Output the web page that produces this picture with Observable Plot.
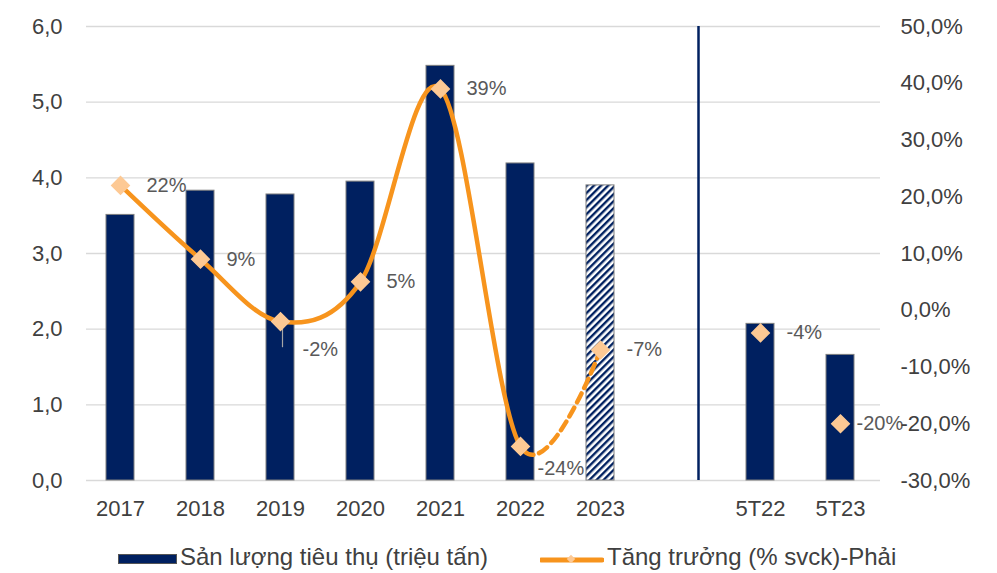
<!DOCTYPE html>
<html><head><meta charset="utf-8">
<script src="https://cdn.jsdelivr.net/npm/d3@7"></script>
<script src="https://cdn.jsdelivr.net/npm/@observablehq/plot@0.6"></script>
<style>
body{margin:0;background:#fff;font-family:"Liberation Sans",Arial,sans-serif;}
#legend{position:relative;height:38px;width:997px;color:#404040;font-size:24px;}
#legend .sw{position:absolute;}
#legend .lbl{position:absolute;top:9px;line-height:26px;white-space:nowrap;}
</style></head><body>
<svg width="0" height="0" style="position:absolute"><defs>
<pattern id="hatch" patternUnits="userSpaceOnUse" width="5" height="5" patternTransform="rotate(45)">
<rect width="5" height="5" fill="#ffffff"/><rect width="2.4" height="5" fill="#002060"/>
</pattern></defs></svg>
<div id="chart"></div>
<div id="legend"></div>
<script>
const categories = ["2017","2018","2019","2020","2021","2022","2023"," ","5T22","5T23"];
const volumes = [3.51, 3.83, 3.78, 3.95, 5.48, 4.19, 3.90, null, 2.07, 1.66];
const growth = [22, 9, -2, 5, 39, -24, -7, null, -4, -20];
const lineCategories = ["2017","2018","2019","2020","2021","2022","2023"];
const dashedFrom = "2022";
const leftTicks = [0, 1, 2, 3, 4, 5, 6];
const rightTicks = [-30, -20, -10, 0, 10, 20, 30, 40, 50];
const seriesNames = ["Sản lượng tiêu thụ (triệu tấn)", "Tăng trưởng (% svck)-Phải"];
const estimateCategory = "2023";

const leftDomain = [0, 6];
const rightDomain = [-30, 50];
const toLeft = g => (g - rightDomain[0]) / (rightDomain[1] - rightDomain[0]) * (leftDomain[1] - leftDomain[0]) + leftDomain[0];
const fromLeft = v => (v - leftDomain[0]) / (leftDomain[1] - leftDomain[0]) * (rightDomain[1] - rightDomain[0]) + rightDomain[0];

const rows = categories.map((c, i) => ({cat: c, v: volumes[i], g: growth[i]}));
const barRows = rows.filter(d => d.v != null);
const dotRows = rows.filter(d => d.g != null);
const lineRows = rows.filter(d => lineCategories.includes(d.cat));

const NAVY = "#002060", ORANGE = "#F7941D", PEACH = "#FDC994";
const comma = (v, n) => v.toFixed(n).replace(".", ",");
const lbl = d => d.g + "%";
const normal = dotRows.filter(d => !["2019","2022","5T23"].includes(d.cat));

const plot = Plot.plot({
  width: 997, height: 535,
  marginLeft: 86, marginRight: 117, marginTop: 26, marginBottom: 55,
  style: {fontFamily: '"Liberation Sans", Arial, sans-serif', fontSize: "22px", color: "#404040", background: "#fff"},
  x: {domain: categories, range: [79, 880], paddingInner: 0.65, paddingOuter: 0.325, align: 0.5, label: null},
  y: {domain: leftDomain, label: null},
  marks: [
    Plot.gridY(leftTicks, {stroke: "#d9d9d9", strokeOpacity: 1, strokeWidth: 1.3}),
    Plot.barY(barRows, {x: "cat", y: "v", fill: d => d.cat === estimateCategory ? "url(#hatch)" : NAVY, stroke: "#7f7f7f", strokeWidth: 1}),
    Plot.ruleX([" "], {x: d => d, dx: 18, y1: leftDomain[0], y2: leftDomain[1], stroke: NAVY, strokeWidth: 2.5}),
    Plot.ruleX(["2019"], {x: d => d, dx: 2, y1: toLeft(-2), y2: toLeft(-6.6), stroke: "#a6a6a6", strokeWidth: 1.2}),
    Plot.line(lineRows, {x: "cat", y: d => toLeft(d.g), curve: "cardinal", stroke: ORANGE, strokeWidth: 4.5}),
    Plot.dot(dotRows, {x: "cat", y: d => toLeft(d.g), symbol: "square", rotate: 45, r: 7, fill: PEACH, stroke: PEACH}),
    Plot.text(normal, {x: "cat", y: d => toLeft(d.g), text: lbl, dx: 26, textAnchor: "start", fill: "#595959", fontSize: 20}),
    Plot.text(dotRows.filter(d => d.cat === "2019"), {x: "cat", y: d => toLeft(d.g), text: lbl, dx: 22, dy: 28, textAnchor: "start", fill: "#595959", fontSize: 20}),
    Plot.text(dotRows.filter(d => d.cat === "2022"), {x: "cat", y: d => toLeft(d.g), text: lbl, dx: 17, dy: 22, textAnchor: "start", fill: "#595959", fontSize: 20}),
    Plot.text(dotRows.filter(d => d.cat === "5T23"), {x: "cat", y: d => toLeft(d.g), text: lbl, dx: 16, textAnchor: "start", fill: "#595959", fontSize: 20}),
    Plot.axisY(leftTicks, {anchor: "left", tickSize: 0, tickPadding: 24, tickFormat: v => comma(v, 1), fill: "#404040", label: null}),
    Plot.axisY(rightTicks.map(toLeft), {anchor: "right", tickSize: 0, tickPadding: 20, tickFormat: v => comma(Math.round(fromLeft(v)), 1) + "%", fill: "#404040", label: null}),
    Plot.axisX({tickSize: 0, tickPadding: 20, fill: "#404040", label: null})
  ]
});
document.getElementById("chart").appendChild(plot);

// dashed styling for the projected segment of the growth line
const path = plot.querySelector('g[aria-label="line"] path');
if (path) {
  const d = path.getAttribute("d");
  const parts = d.split(/(?=[MCL])/);
  const nSolid = lineCategories.indexOf(dashedFrom);
  const tmp = document.createElementNS("http://www.w3.org/2000/svg", "path");
  tmp.setAttribute("d", parts.slice(0, nSolid + 1).join(""));
  path.parentNode.appendChild(tmp);
  const L1 = tmp.getTotalLength();
  tmp.remove();
  const total = path.getTotalLength();
  const arr = [L1];
  let acc = L1;
  while (acc < total + 20) { arr.push(6, 10); acc += 16; }
  arr.push(total + 100);
  path.setAttribute("stroke-dasharray", arr.map(v => v.toFixed(2)).join(" "));
}

// legend
const lg = document.getElementById("legend");
lg.innerHTML = `
<div class="sw" style="left:118px;top:19px;width:59px;height:10px;background:${NAVY};border:1px solid #555;box-sizing:border-box"></div>
<div class="lbl" style="left:180px">${seriesNames[0]}</div>
<svg class="sw" style="left:540px;top:16px" width="64" height="18">
<line x1="1" y1="9" x2="62" y2="9" stroke="${ORANGE}" stroke-width="5" stroke-linecap="round"/>
<rect x="28" y="5" width="6" height="6" fill="${PEACH}" transform="rotate(45 31 8)"/>
</svg>
<div class="lbl" style="left:607px">${seriesNames[1]}</div>`;
</script>
</body></html>
